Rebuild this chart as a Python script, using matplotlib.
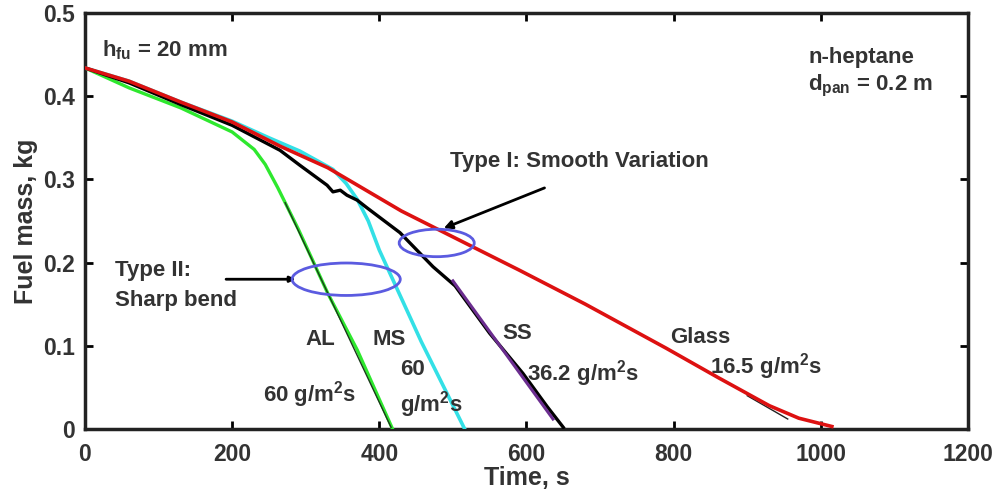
import numpy as np
import matplotlib.pyplot as plt
from matplotlib.patches import Ellipse

plt.rcParams['font.family'] = ['Liberation Sans', 'DejaVu Sans']
plt.rcParams['mathtext.fontset'] = 'custom'
plt.rcParams['mathtext.bf'] = 'Liberation Sans:bold'
plt.rcParams['mathtext.rm'] = 'Liberation Sans:bold'

# Fuel mass curves (time in s, mass in kg)
t_glass = [0, 60, 130, 200, 265, 330, 430, 520, 590, 680, 790, 860, 930, 970, 1015]
m_glass = [0.434, 0.418, 0.393, 0.369, 0.340, 0.314, 0.262, 0.222, 0.191, 0.150, 0.097, 0.062, 0.028, 0.013, 0.003]

t_ss = [0, 60, 130, 200, 265, 292, 329, 337, 347, 356, 370, 383, 428, 473, 503, 550, 595, 628, 650]
m_ss = [0.434, 0.416, 0.390, 0.365, 0.335, 0.317, 0.293, 0.285, 0.287, 0.281, 0.275, 0.266, 0.236, 0.195, 0.172, 0.115, 0.067, 0.027, 0.002]

t_ms = [0, 60, 130, 200, 250, 292, 337, 355, 370, 385, 400, 457, 516]
m_ms = [0.434, 0.418, 0.393, 0.370, 0.350, 0.334, 0.312, 0.295, 0.276, 0.250, 0.215, 0.105, 0.0]

t_al = [0, 60, 130, 200, 230, 245, 262, 290, 330, 370, 418]
m_al = [0.434, 0.410, 0.386, 0.357, 0.336, 0.318, 0.290, 0.240, 0.163, 0.095, 0.0]

# linear fit segments (start, end)
fit_al_t, fit_al_m = [272, 416], [0.272, 0.002]
fit_ss_t, fit_ss_m = [500, 636], [0.178, 0.012]
fit_glass_t, fit_glass_m = [900, 955], [0.040, 0.012]

xticks = [0, 200, 400, 600, 800, 1000, 1200]
yticks = [0, 0.1, 0.2, 0.3, 0.4, 0.5]

txt = '#333333'

fig = plt.figure(figsize=(9.96, 4.94), dpi=100)
ax = fig.add_axes([0.0853, 0.1316, 0.8866, 0.8421])

ax.plot(t_al, m_al, color='#2ee82e', lw=2.4, zorder=3)
ax.plot(fit_al_t, fit_al_m, color='#1a3a1a', lw=1.0, zorder=4)
ax.plot(t_ms, m_ms, color='#33e0e6', lw=2.6, zorder=3)
ax.plot(t_ss, m_ss, color='black', lw=2.4, zorder=4)
ax.plot(fit_ss_t, fit_ss_m, color='#6b2d8f', lw=2.2, zorder=5)
ax.plot(fit_glass_t, fit_glass_m, color='#222222', lw=1.0, zorder=2)
ax.plot(t_glass, m_glass, color='#dd1111', lw=2.6, zorder=5)

# ellipses marking the two burning types
ax.add_patch(Ellipse((478, 0.2236), 102, 0.033, fill=False, ec='#5b5be0', lw=2, zorder=6))
ax.add_patch(Ellipse((355, 0.180), 147, 0.039, fill=False, ec='#5b5be0', lw=2, zorder=6))

ax.annotate('', xy=(484, 0.240), xytext=(628, 0.291),
            arrowprops=dict(arrowstyle='-|>', color='black', lw=2, mutation_scale=12))
ax.annotate('', xy=(290, 0.180), xytext=(188, 0.180),
            arrowprops=dict(arrowstyle='-|>', color='black', lw=2, mutation_scale=8))

fs = 16
kw = dict(color=txt, fontsize=fs, fontweight='bold', va='center')
ax.text(23, 0.455, r'h$_{\mathbf{fu}}$ = 20 mm', **kw)
ax.text(983, 0.446, 'n-heptane', **kw)
ax.text(983, 0.412, r'd$_{\mathbf{pan}}$ = 0.2 m', **kw)
ax.text(496, 0.321, 'Type I: Smooth Variation', **kw)
ax.text(41, 0.191, 'Type II:', **kw)
ax.text(41, 0.155, 'Sharp bend', **kw)
ax.text(299, 0.107, 'AL', **kw)
ax.text(242, 0.041, r'60 g/m$^{\mathbf{2}}$s', **kw)
ax.text(391, 0.107, 'MS', **kw)
ax.text(428, 0.072, '60', **kw)
ax.text(428, 0.029, r'g/m$^{\mathbf{2}}$s', **kw)
ax.text(567, 0.115, 'SS', **kw)
ax.text(601, 0.067, r'36.2 g/m$^{\mathbf{2}}$s', **kw)
ax.text(795, 0.110, 'Glass', **kw)
ax.text(849, 0.075, r'16.5 g/m$^{\mathbf{2}}$s', **kw)

ax.set_xlim(0, 1200)
ax.set_ylim(0, 0.5)
ax.set_xticks(xticks)
ax.set_yticks(yticks)
ax.set_yticklabels(['0', '0.1', '0.2', '0.3', '0.4', '0.5'])
ax.tick_params(direction='in', length=6, width=2, top=True, right=True,
               labelsize=16.5, labelcolor=txt)
ax.tick_params(axis='x', pad=10)
ax.tick_params(axis='y', pad=7)
for lab in ax.get_xticklabels() + ax.get_yticklabels():
    lab.set_fontweight('bold')
for s in ax.spines.values():
    s.set_linewidth(2.5)
    s.set_color('#222222')

ax.set_xlabel('Time, s', fontsize=18, fontweight='bold', color=txt, labelpad=0)
ax.set_ylabel('Fuel mass, kg', fontsize=18, fontweight='bold', color=txt, labelpad=4)

fig.savefig('out.png', dpi=100)
